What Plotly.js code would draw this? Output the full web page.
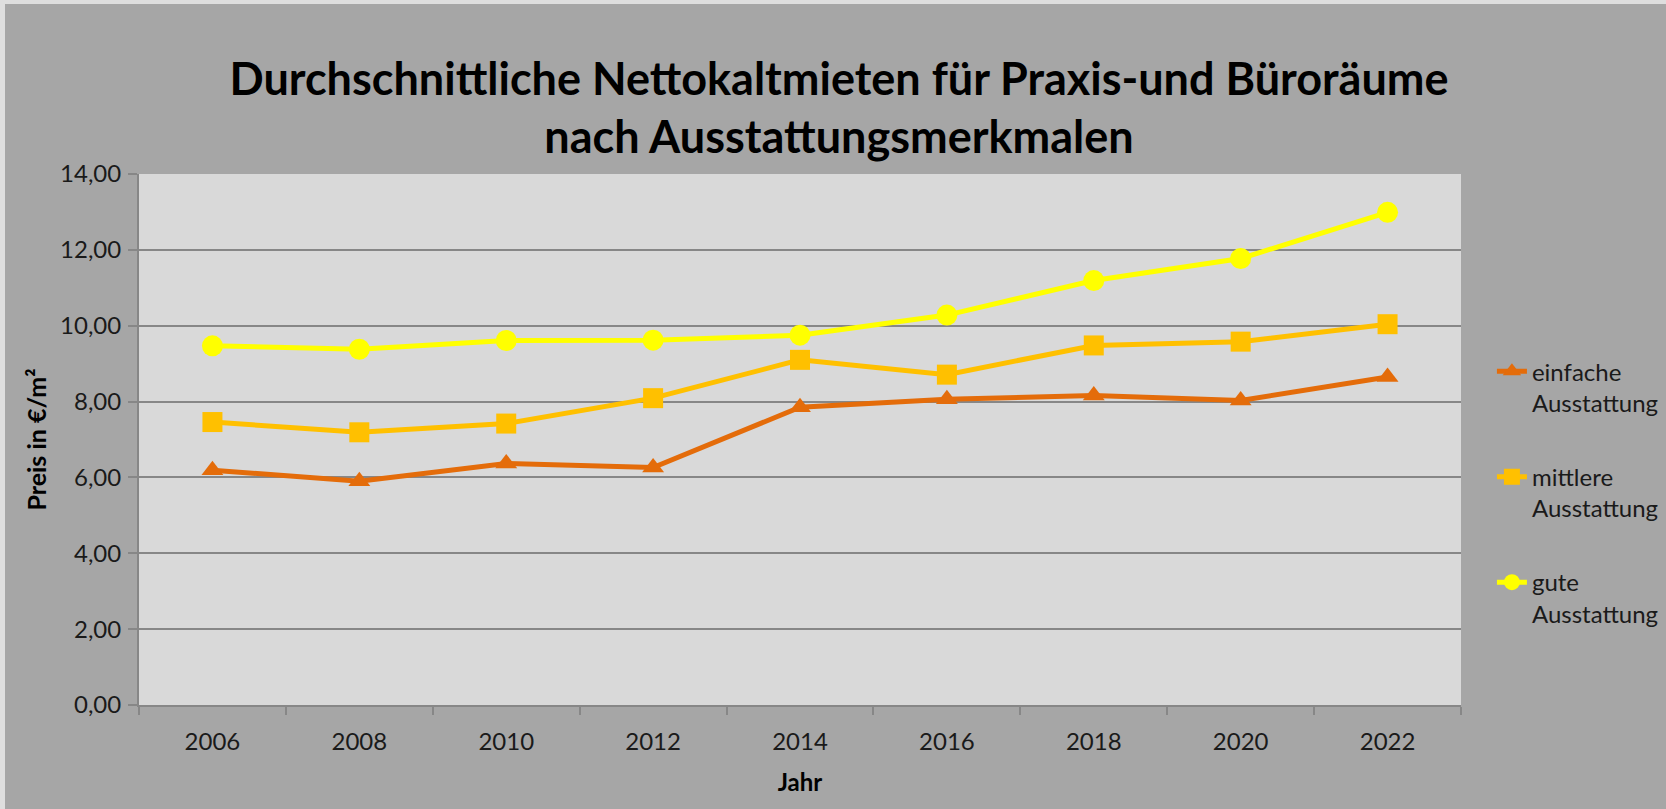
<!DOCTYPE html>
<html>
<head>
<meta charset="utf-8">
<script src="https://cdn.plot.ly/plotly-3.0.1.min.js"></script>
<style>
  html, body { margin: 0; padding: 0; background: #DEDEDE; width: 1666px; height: 809px; overflow: hidden; }
  #chart { position: absolute; left: 5px; top: 4px; width: 1720px; height: 805px; }
</style>
</head>
<body>
<div id="chart"></div>
<script>
const years = ['2006', '2008', '2010', '2012', '2014', '2016', '2018', '2020', '2022'];
const einfache = [6.19, 5.90, 6.37, 6.26, 7.85, 8.06, 8.16, 8.03, 8.65];
const mittlere = [7.46, 7.19, 7.42, 8.09, 9.10, 8.71, 9.48, 9.58, 10.04];
const gute = [9.47, 9.38, 9.61, 9.62, 9.75, 10.28, 11.19, 11.77, 12.99];
const seriesNames = ['einfache<br>Ausstattung', 'mittlere<br>Ausstattung', 'gute<br>Ausstattung'];
const titleText = 'Durchschnittliche Nettokaltmieten für Praxis-und Büroräume<br>nach Ausstattungsmerkmalen';
const yTitle = 'Preis in €/m²';
const xTitle = 'Jahr';

const FONT = 'Lato, "Open Sans", sans-serif';
const gridC = '#878787';

const traces = [
  {x: years, y: einfache, name: seriesNames[0], legendgroup: 'a', type: 'scatter', mode: 'lines+markers',
   line: {color: '#E46C0A', width: 5}, marker: {symbol: 'triangle-up', size: 19, color: '#E46C0A'}},
  {x: years, y: mittlere, name: seriesNames[1], legendgroup: 'b', type: 'scatter', mode: 'lines+markers',
   line: {color: '#FFC000', width: 5}, marker: {symbol: 'square', size: 20, color: '#FFC000'}},
  {x: years, y: gute, name: seriesNames[2], legendgroup: 'c', type: 'scatter', mode: 'lines+markers',
   line: {color: '#FFFF00', width: 5}, marker: {symbol: 'circle', size: 21, color: '#FFFF00'}}
];

const layout = {
  width: 1720, height: 805,
  margin: {l: 134, r: 264, t: 170, b: 104, pad: 0},
  paper_bgcolor: '#A6A6A6',
  plot_bgcolor: '#D9D9D9',
  separators: ',.',
  font: {family: FONT, color: '#1a1a1a', size: 24},
  title: {text: titleText, font: {family: FONT, size: 45, color: '#000', weight: 'bold'},
          x: 834 / 1720, xref: 'container', xanchor: 'center', yref: 'container', y: 0.887, yanchor: 'middle'},
  showlegend: true,
  legend: {x: 1.0234, xanchor: 'left', y: 0.67, yanchor: 'top', bgcolor: 'rgba(0,0,0,0)',
           font: {family: FONT, size: 24, color: '#1a1a1a'}, tracegroupgap: 40, valign: 'top',
           traceorder: 'grouped'},
  xaxis: {
    type: 'category', range: [-0.5, 8.5], tickson: 'boundaries',
    showgrid: false, showline: true, linecolor: gridC, linewidth: 2,
    ticks: 'outside', ticklen: 8, tickwidth: 2, tickcolor: gridC,
    tickfont: {family: FONT, size: 24, color: '#1a1a1a'}, ticklabelstandoff: 14,
    title: {text: xTitle, font: {family: FONT, size: 24, color: '#000', weight: 'bold'}, standoff: 20},
    zeroline: false, fixedrange: true
  },
  yaxis: {
    range: [0, 14], dtick: 2, tick0: 0, tickformat: '.2f',
    showgrid: true, gridcolor: gridC, gridwidth: 2,
    showline: true, linecolor: gridC, linewidth: 2,
    ticks: 'outside', ticklen: 9, tickwidth: 2, tickcolor: gridC,
    tickfont: {family: FONT, size: 24, color: '#1a1a1a'}, ticklabelstandoff: 2,
    title: {text: yTitle, font: {family: FONT, size: 25, color: '#000', weight: 'bold'}, standoff: 6},
    zeroline: false, fixedrange: true
  }
};

Plotly.newPlot('chart', traces, layout, {displayModeBar: false, staticPlot: true});
</script>
</body>
</html>
